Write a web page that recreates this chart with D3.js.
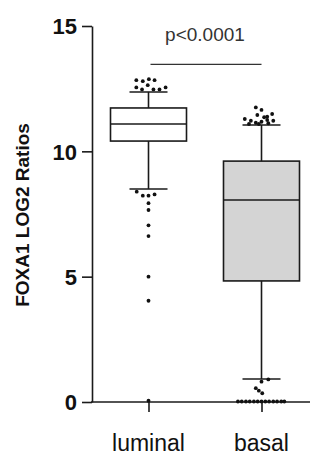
<!DOCTYPE html>
<html lang="en">
<head>
    <meta charset="UTF-8">
    <title>FOXA1 boxplot</title>
    <script src="https://d3js.org/d3.v7.min.js"></script>
    <style>
        body { margin: 0; background: #fff; }
        svg { display: block; font-family: Arial, "Liberation Sans", sans-serif; }
        .tick text { font-weight: bold; font-size: 22px; fill: #111; }
    </style>
</head>
<body>
<svg width="313" height="457"></svg>

<script>
    // categories and box summary
    const groups = ["luminal", "basal"];
    const q1 = [10.41, 4.83];
    const median = [11.09, 8.06];
    const q3 = [11.73, 9.61];
    const whiskerLow = [8.5, 0.92];
    const whiskerHigh = [12.37, 11.05];
    const boxFill = ["#ffffff", "#d4d4d4"];

    // outliers: [value, horizontal jitter as a fraction of half the box width]
    const luminalOutliers = [
        [12.84, -0.32], [12.80, -0.15], [12.88, 0.01], [12.84, 0.16], [12.64, -0.02],
        [12.55, -0.32], [12.47, -0.17], [12.47, 0.13], [12.47, 0.29], [12.55, 0.45],
        [8.39, -0.31], [8.23, -0.15], [8.23, 0], [8.28, 0.16], [7.93, 0],
        [7.66, 0], [7.05, 0], [6.62, 0], [5.0, 0], [4.04, 0], [0.05, 0]
    ];
    const basalOutliers = [
        [11.75, -0.15], [11.65, 0], [11.45, -0.11], [11.36, 0.07], [11.38, 0.15],
        [11.49, 0.28], [11.29, -0.44], [11.22, -0.28], [11.14, -0.15], [11.18, 0],
        [11.25, 0.15], [11.22, 0.31], [11.09, -0.33], [11.09, -0.07], [11.12, 0.18],
        [0.81, 0], [0.9, 0.18], [0.55, -0.15], [0.45, -0.07], [0.35, 0.02],
        [0.02, -0.62], [0.02, -0.52], [0.02, -0.41], [0.02, -0.31], [0.02, -0.2],
        [0.02, -0.1], [0.02, 0], [0.02, 0.1], [0.02, 0.2], [0.02, 0.31],
        [0.02, 0.41], [0.02, 0.52], [0.02, 0.6]
    ];
    const outliers = [luminalOutliers, basalOutliers];

    const yTicks = [0, 5, 10, 15];
    const yLabel = "FOXA1 LOG2 Ratios";
    const pText = "p<0.0001";
    const pLineValue = 13.47;

    const svg = d3.select("svg");
    const ink = "#1a1a1a";

    const y = d3.scaleLinear().domain([0, 15]).range([402, 26]);
    const x = d3.scalePoint().domain(groups).range([92, 318]).padding(0.5);
    const half = 38;   // half box width
    const capHalf = 19;

    // y axis
    const yAxis = svg.append("g")
        .attr("transform", "translate(92,0)")
        .call(d3.axisLeft(y).tickValues(yTicks).tickSize(10).tickSizeOuter(0).tickPadding(5));
    yAxis.selectAll("path, line").attr("stroke", ink).attr("stroke-width", 1.6);
    yAxis.selectAll("text").attr("dy", "0.36em");

    // x axis
    const xAxis = svg.append("g")
        .attr("transform", "translate(0,402)")
        .call(d3.axisBottom(x).tickSize(10).tickSizeOuter(0).tickFormat(""));
    xAxis.select(".domain").remove();
    xAxis.selectAll("line").attr("stroke", ink).attr("stroke-width", 1.6);
    svg.append("line")
        .attr("x1", 91).attr("x2", 310).attr("y1", 402).attr("y2", 402)
        .attr("stroke", ink).attr("stroke-width", 1.6);

    svg.selectAll(".xlab")
        .data(groups)
        .enter().append("text")
        .attr("class", "xlab")
        .attr("x", d => x(d))
        .attr("y", 451)
        .attr("text-anchor", "middle")
        .attr("font-size", 23)
        .attr("fill", "#111")
        .text(d => d);

    // y label
    svg.append("text")
        .attr("transform", "translate(29,215) rotate(-90)")
        .attr("text-anchor", "middle")
        .attr("font-size", 19)
        .attr("font-weight", "bold")
        .attr("fill", "#111")
        .text(yLabel);

    // boxes
    const box = svg.selectAll(".box")
        .data(groups)
        .enter().append("g")
        .attr("class", "box");

    box.append("line")
        .attr("x1", d => x(d)).attr("x2", d => x(d))
        .attr("y1", (d, i) => y(whiskerLow[i])).attr("y2", (d, i) => y(whiskerHigh[i]))
        .attr("stroke", ink).attr("stroke-width", 1.6);

    box.append("rect")
        .attr("x", d => x(d) - half)
        .attr("width", half * 2)
        .attr("y", (d, i) => y(q3[i]))
        .attr("height", (d, i) => y(q1[i]) - y(q3[i]))
        .attr("fill", (d, i) => boxFill[i])
        .attr("stroke", ink).attr("stroke-width", 1.6);

    box.append("line")
        .attr("x1", d => x(d) - half).attr("x2", d => x(d) + half)
        .attr("y1", (d, i) => y(median[i])).attr("y2", (d, i) => y(median[i]))
        .attr("stroke", ink).attr("stroke-width", 1.6);

    [whiskerLow, whiskerHigh].forEach(function (w) {
        box.append("line")
            .attr("x1", d => x(d) - capHalf).attr("x2", d => x(d) + capHalf)
            .attr("y1", (d, i) => y(w[i])).attr("y2", (d, i) => y(w[i]))
            .attr("stroke", ink).attr("stroke-width", 1.6);
    });

    // outlier dots
    groups.forEach(function (g, i) {
        svg.append("g").selectAll("circle")
            .data(outliers[i])
            .enter().append("circle")
            .attr("cx", d => x(g) + d[1] * half)
            .attr("cy", d => y(d[0]))
            .attr("r", 1.9)
            .attr("fill", "#111");
    });

    // significance
    svg.append("line")
        .attr("x1", x(groups[0]) + 2).attr("x2", x(groups[1]))
        .attr("y1", y(pLineValue)).attr("y2", y(pLineValue))
        .attr("stroke", "#333").attr("stroke-width", 1.4);
    svg.append("text")
        .attr("x", (x(groups[0]) + x(groups[1])) / 2)
        .attr("y", 41)
        .attr("text-anchor", "middle")
        .attr("font-size", 19)
        .attr("fill", "#333")
        .text(pText);
</script>
</body>
</html>
